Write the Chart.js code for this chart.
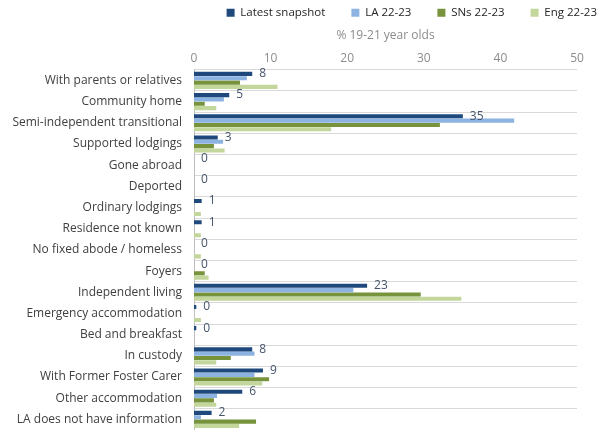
<!DOCTYPE html>
<html>
<head>
<meta charset="utf-8">
<script src="https://cdn.jsdelivr.net/npm/chart.js@4.4.0/dist/chart.umd.min.js"></script>
<style>
	html, body { margin: 0; padding: 0; background: #fff; overflow: hidden; }
</style>
</head>
<body>
<canvas id="myChart" width="603" height="430"></canvas>
<script>
// categories, top to bottom
const categories = [
	'With parents or relatives',
	'Community home',
	'Semi-independent transitional',
	'Supported lodgings',
	'Gone abroad',
	'Deported',
	'Ordinary lodgings',
	'Residence not known',
	'No fixed abode / homeless',
	'Foyers',
	'Independent living',
	'Emergency accommodation',
	'Bed and breakfast',
	'In custody',
	'With Former Foster Carer',
	'Other accommodation',
	'LA does not have information',
]

// % of 19-21 year olds
const latestSnapshot = [7.6, 4.6, 35.1, 3.1, 0, 0, 1.0, 1.0, 0, 0, 22.6, 0.3, 0.3, 7.6, 9.0, 6.3, 2.3]
const la2223 = [6.9, 3.9, 41.8, 3.8, 0, 0, 0, 0, 0, 0, 20.8, 0, 0, 7.9, 7.9, 3.0, 0.9]
const sns2223 = [6.0, 1.4, 32.1, 2.6, 0, 0, 0, 0, 0, 1.4, 29.6, 0, 0, 4.8, 9.8, 2.6, 8.1]
const eng2223 = [10.9, 2.9, 17.9, 4.0, 0, 0, 0.9, 0.9, 0.9, 1.9, 34.9, 0.9, 0, 2.9, 8.9, 2.9, 5.9]

const xTicks = [0, 10, 20, 30, 40, 50]

const font = "'Open Sans', 'Noto Sans', sans-serif"
const legendGap = 26

// labels on the Latest snapshot bars only
const latestLabels = {
	id: 'latestLabels',
	afterDatasetsDraw(chart) {
		const ctx = chart.ctx
		const meta = chart.getDatasetMeta(0)
		ctx.save()
		ctx.font = '12px ' + font
		ctx.fillStyle = '#44546a'
		ctx.textBaseline = 'middle'
		meta.data.forEach((bar, i) => {
			ctx.fillText(Math.round(latestSnapshot[i]), bar.x + 7, bar.y)
		})
		ctx.restore()
	},
}

// push the legend to the top right corner, like the original
const legendPlace = {
	id: 'legendPlace',
	afterLayout(chart) {
		const lg = chart.legend
		lg.top = 7 - legendGap
		lg.right = 597 + legendGap
	},
}

const ctx = document.getElementById('myChart').getContext('2d')
const myChart = new Chart(ctx, {
	type: 'bar',
	data: {
		labels: categories,
		datasets: [
			{ label: 'Latest snapshot', data: latestSnapshot, backgroundColor: '#1f497d' },
			{ label: 'LA 22-23', data: la2223, backgroundColor: '#8db3e2' },
			{ label: 'SNs 22-23', data: sns2223, backgroundColor: '#77933c' },
			{ label: 'Eng 22-23', data: eng2223, backgroundColor: '#c3d69b' },
		],
	},
	plugins: [latestLabels, legendPlace],
	options: {
		indexAxis: 'y',
		responsive: false,
		animation: false,
		barPercentage: 0.95,
		categoryPercentage: 0.82,
		layout: { padding: { top: 0, right: 26, left: 0, bottom: 0 } },
		plugins: {
			legend: {
				position: 'top',
				align: 'end',
				maxHeight: 24,
				labels: {
					boxWidth: 8,
					boxHeight: 8,
					padding: legendGap,
					color: '#262626',
					font: { family: font, size: 11.5 },
				},
			},
			tooltip: { enabled: false },
		},
		scales: {
			x: {
				position: 'top',
				min: 0,
				max: 50,
				afterBuildTicks: (axis) => {
					axis.ticks = xTicks.map((v) => ({ value: v }))
				},
				grid: { display: false, drawTicks: false },
				border: { display: false },
				ticks: {
					color: '#8c8c8c',
					padding: 4,
					maxRotation: 0,
					font: { family: font, size: 12 },
				},
				title: {
					display: true,
					text: '% 19-21 year olds',
					color: '#8c8c8c',
					padding: { top: 4, bottom: 5 },
					font: { family: font, size: 12 },
				},
			},
			y: {
				grid: {
					offset: true,
					color: '#d9d9d9',
					drawTicks: false,
				},
				border: { color: '#bfbfbf' },
				ticks: {
					color: '#404040',
					padding: 12,
					autoSkip: false,
					font: { family: font, size: 12 },
				},
				afterFit: (axis) => {
					axis.width = 194
					axis.paddingTop = 0
					axis.paddingBottom = 0
				},
			},
		},
	},
})
</script>
</body>
</html>
